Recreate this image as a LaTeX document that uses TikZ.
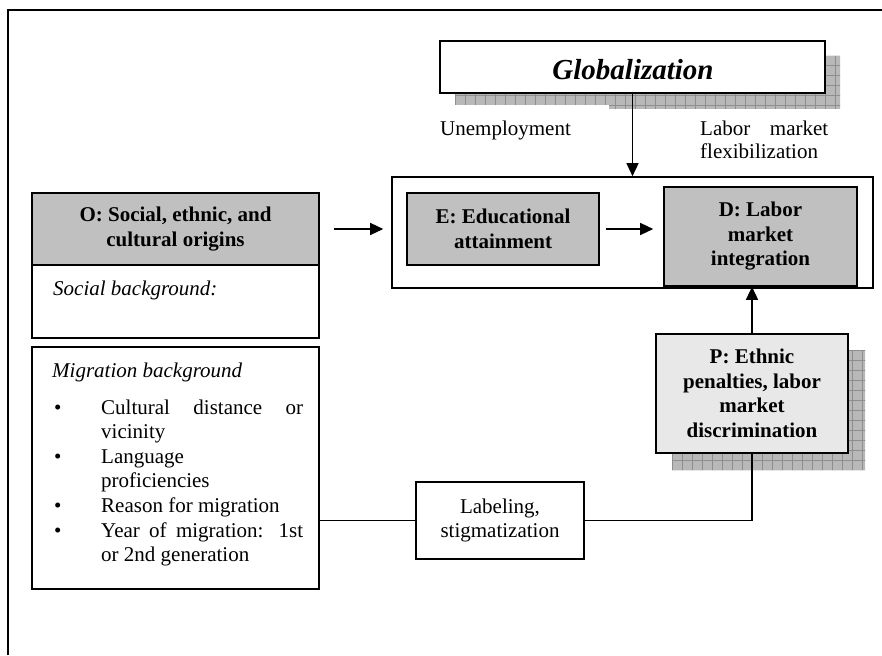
\documentclass[tikz,border=0pt]{standalone}
\usepackage{fontspec}
\setmainfont{Liberation Serif}
\usetikzlibrary{arrows.meta}
\definecolor{boxgray}{HTML}{C0C0C0}
\definecolor{paleboxgray}{HTML}{E8E8E8}
\definecolor{shadowgray}{HTML}{B8B8B8}
\definecolor{gridgray}{HTML}{8E8E8E}
\begin{document}
\begin{tikzpicture}[x=1pt,y=-1pt,
  every node/.style={font=\fontsize{21}{24.5}\selectfont},
  box/.style={draw, line width=1.6pt, inner sep=0pt, align=center},
  boldbox/.style={box, font=\fontsize{21}{24.5}\selectfont\bfseries},
  arr/.style={line width=1.4pt, -{Triangle[length=13pt,width=12pt]}},
  conn/.style={line width=1.4pt},
  txt/.style={inner sep=0pt, anchor=base west}]
\useasboundingbox (0,0) rectangle (882,655);
\fill[white] (0,0) rectangle (882,655);
% outer frame (cut off)
\draw[line width=1.8pt] (8,655) -- (8,10) -- (882,10);

% shadow of Globalization box
\begin{scope}
\clip (455,93) -- (455,105) -- (609,105) -- (609,109) -- (840,109) -- (840,56) -- (825,56) -- (825,93) -- cycle;
\fill[shadowgray] (440,50) rectangle (845,112);
\foreach \gx in {445,455,...,845} \draw[gridgray, line width=0.6pt] (\gx,50) -- (\gx,112);
\foreach \gy in {55,65,...,115} \draw[gridgray, line width=0.6pt] (440,\gy) -- (845,\gy);
\end{scope}

% shadow of P box
\begin{scope}
\clip (848,350) -- (865,350) -- (865,470) -- (672,470) -- (672,453) -- (848,453) -- cycle;
\fill[shadowgray] (665,345) rectangle (870,475);
\foreach \gx in {672,682,...,872} \draw[gridgray, line width=0.6pt] (\gx,345) -- (\gx,475);
\foreach \gy in {350,360,...,480} \draw[gridgray, line width=0.6pt] (665,\gy) -- (870,\gy);
\end{scope}

% Globalization
\node[box, fill=white, minimum width=385pt, minimum height=52pt] (glob) at (632.5,67) {};
\node[inner sep=0pt, anchor=base, font=\fontsize{29}{32}\selectfont\bfseries\itshape] (globtxt) at (633,80) {Globalization};

\node[txt] (unemp) at (440,136) {Unemployment};
\node[txt] (lm1) at (700,136) {\makebox[128pt][s]{Labor market}};
\node[txt] (lm2) at (700,158) {flexibilization};

% container
\node[box, minimum width=481pt, minimum height=111pt] (cont) at (632.5,232.5) {};
\node[boldbox, fill=boxgray, minimum width=192pt, minimum height=72pt] (E) at (503,229) {E: Educational\\attainment};
\node[boldbox, fill=boxgray, minimum width=193pt, minimum height=99pt] (D) at (760.5,236.5) {D: Labor\\market\\integration};

% O boxes
\node[boldbox, fill=boxgray, minimum width=287pt, minimum height=72pt] (O) at (175.5,229) {O: Social, ethnic, and\\cultural origins};
\node[box, minimum width=287pt, minimum height=73pt] (soc) at (175.5,301.5) {};
\node[txt] (soctxt) at (53,295) {\itshape Social background:};

\node[box, minimum width=287pt, minimum height=242pt] (mig) at (175.5,468) {};
\node[txt] (mb) at (52,377) {\itshape Migration background};
\node[txt] (b1) at (54,414) {\textbullet};
\node[txt] (b2) at (54,463) {\textbullet};
\node[txt] (b3) at (54,512) {\textbullet};
\node[txt] (b4) at (54,537) {\textbullet};
\node[txt] (l1) at (101,414) {\makebox[202pt][s]{Cultural distance or}};
\node[txt] (l2) at (101,438) {vicinity};
\node[txt] (l3) at (101,463) {Language};
\node[txt] (l4) at (101,487) {proficiencies};
\node[txt] (l5) at (101,512) {Reason for migration};
\node[txt] (l6) at (101,537) {\makebox[202pt][s]{Year of migration: 1st}};
\node[txt] (l7) at (101,561) {or 2nd generation};

% P box
\node[boldbox, fill=paleboxgray, minimum width=192pt, minimum height=119pt] (P) at (752,393.5) {P: Ethnic\\penalties, labor\\market\\discrimination};

% Labeling
\node[box, fill=white, minimum width=168pt, minimum height=77pt] (lab) at (500,520.5) {Labeling,\\stigmatization};

% connectors
\draw[arr] ([xshift=14pt]O.east) -- ([xshift=-8pt]cont.west |- O.east);
\draw[arr] ([xshift=6pt]E.east) -- ([xshift=-10pt]D.west |- E.east);
\draw[arr] (glob.south) -- (cont.north);
\draw[arr] (P.north) -- (P.north |- D.south);
\draw[conn] (mig.east |- lab.west) -- (lab.west);
\draw[conn] (lab.east) -| (P.south);
\end{tikzpicture}
\end{document}
